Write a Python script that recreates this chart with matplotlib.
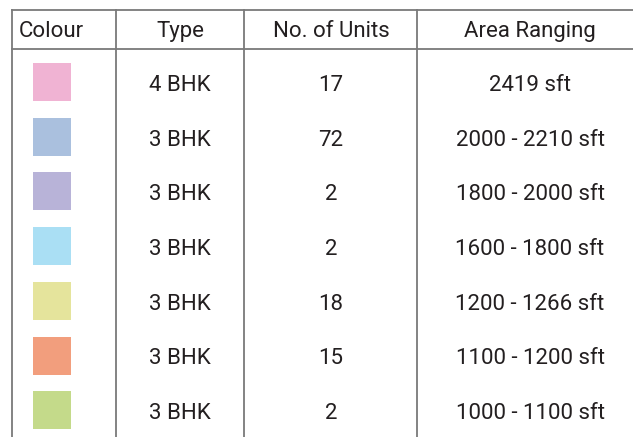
import matplotlib.pyplot as plt
from matplotlib.patches import Rectangle

# table content
headers = ['Colour', 'Type', 'No. of Units', 'Area Ranging']
swatch_colors = ['#F0B3D3', '#AAC0DE', '#B8B3D8', '#AADFF4', '#E5E49C', '#F29E7D', '#C4DA8A']
unit_types = ['4 BHK', '3 BHK', '3 BHK', '3 BHK', '3 BHK', '3 BHK', '3 BHK']
units = [17, 72, 2, 2, 18, 15, 2]
areas = ['2419 sft', '2000 - 2210 sft', '1800 - 2000 sft', '1600 - 1800 sft',
         '1200 - 1266 sft', '1100 - 1200 sft', '1000 - 1100 sft']

W, H = 633, 437
fig = plt.figure(figsize=(W / 100, H / 100), dpi=100)
ax = fig.add_axes([0, 0, 1, 1])
ax.set_xlim(0, W)
ax.set_ylim(H, 0)
ax.axis('off')

font = ['Roboto', 'DejaVu Sans']
txt_color = '#231F20'
line_color = '#7a7a7a'
fs = 16

# grid lines
col_x = [12, 116, 244, 417]
top, head_bot = 10, 49
ax.plot([col_x[0], W], [top, top], color=line_color, lw=1.3)
ax.plot([col_x[0], W], [head_bot, head_bot], color=line_color, lw=1.3)
for x in col_x:
    ax.plot([x, x], [top, H], color=line_color, lw=1.3)

# header
head_base = 37
kw = dict(va='baseline', fontsize=fs, family=font, color=txt_color)
ax.text(19, head_base, headers[0], ha='left', **kw)
for cx, h in zip([180, 331, 530], headers[1:]):
    ax.text(cx, head_base, h, ha='center', **kw)

# rows
row0, step = 83, 54.7
for i, (c, t, n, a) in enumerate(zip(swatch_colors, unit_types, units, areas)):
    y = row0 + i * step
    ax.add_patch(Rectangle((33, y - 20), 38, 38, facecolor=c, edgecolor='none'))
    base = y + 8
    ax.text(180, base, t, ha='center', **kw)
    ax.text(331, base, str(n), ha='center', **kw)
    ax.text(530, base, a, ha='center', **kw)

fig.savefig('out.png', dpi=100)
